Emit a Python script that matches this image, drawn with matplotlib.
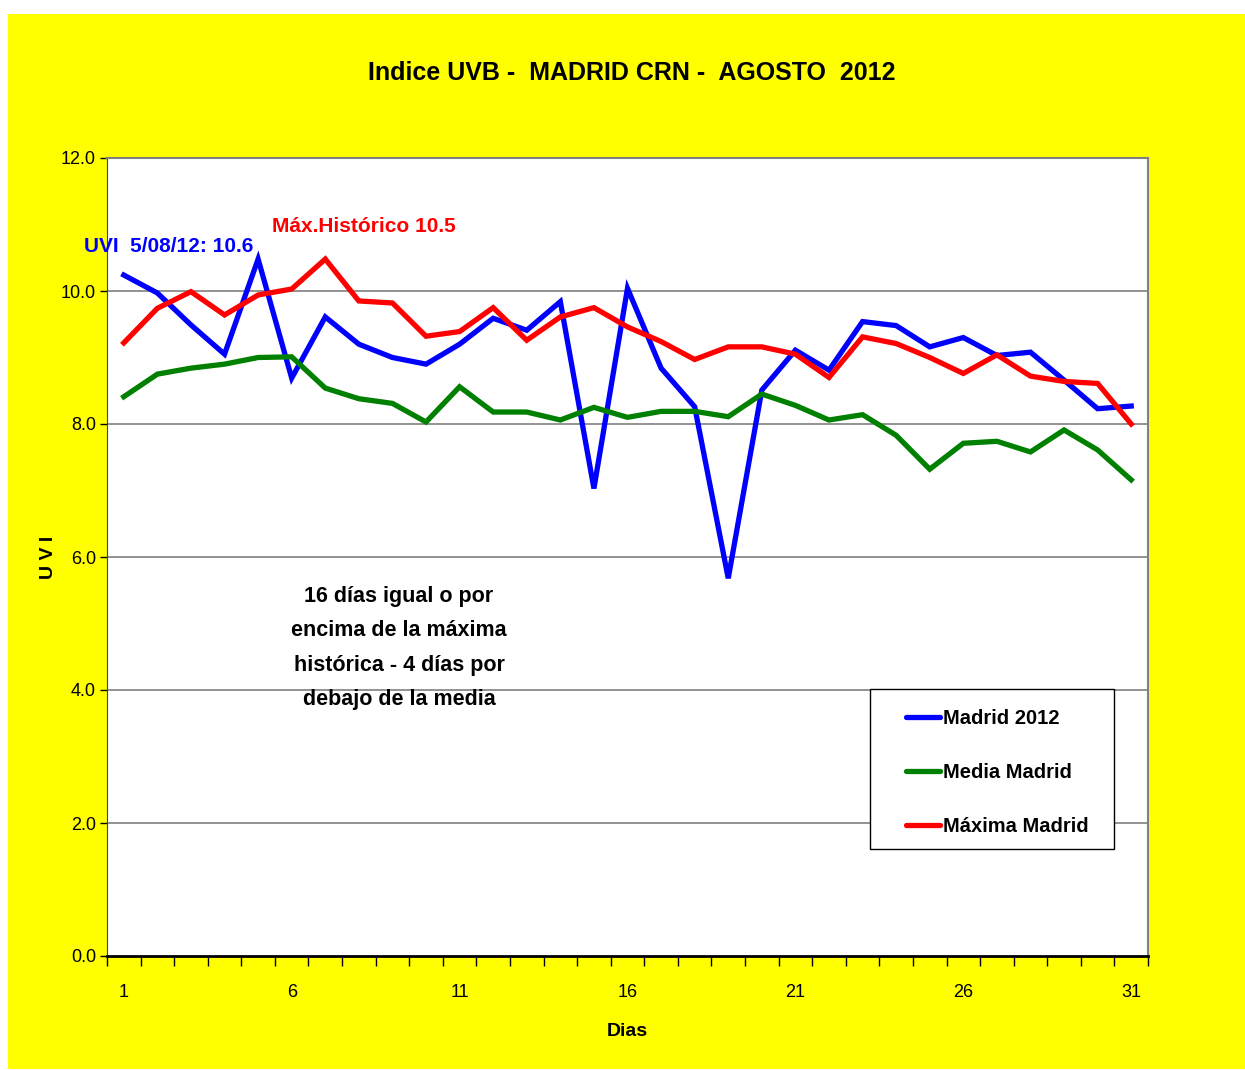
import matplotlib
matplotlib.use("Agg")
import matplotlib.pyplot as plt
from matplotlib.patches import Rectangle
from matplotlib.lines import Line2D
from matplotlib import font_manager

names = {f.name for f in font_manager.fontManager.ttflist}
FAM = "Liberation Sans Narrow" if "Liberation Sans Narrow" in names else "Liberation Sans"
plt.rcParams['font.family'] = [FAM, 'DejaVu Sans']

dias = list(range(1, 32))
madrid_2012 = [10.24, 9.97, 9.49, 9.05, 10.48, 8.69, 9.61, 9.20, 9.00, 8.90,
               9.20, 9.59, 9.41, 9.84, 7.03, 10.04, 8.84, 8.26, 5.68, 8.51,
               9.11, 8.81, 9.54, 9.48, 9.16, 9.30, 9.03, 9.08, 8.66, 8.23, 8.27]
media_madrid = [8.41, 8.75, 8.84, 8.90, 9.00, 9.01, 8.54, 8.38, 8.31, 8.03,
                8.56, 8.18, 8.18, 8.06, 8.25, 8.10, 8.19, 8.19, 8.11, 8.45,
                8.28, 8.06, 8.14, 7.83, 7.32, 7.71, 7.74, 7.58, 7.91, 7.61, 7.16]
maxima_madrid = [9.22, 9.74, 9.99, 9.64, 9.94, 10.03, 10.48, 9.85, 9.82, 9.32,
                 9.39, 9.75, 9.26, 9.61, 9.75, 9.46, 9.24, 8.97, 9.16, 9.16,
                 9.05, 8.70, 9.31, 9.21, 9.00, 8.76, 9.04, 8.72, 8.64, 8.61, 8.00]
xtick_labels = ['1', '6', '11', '16', '21', '26', '31']
yticks = [0.0, 2.0, 4.0, 6.0, 8.0, 10.0, 12.0]

W, H = 1245, 1070
fig = plt.figure(figsize=(W/100, H/100), dpi=100, facecolor='white')
bg = Rectangle((8/W, 1 - 1069/H), (W-8)/W, (1069-14)/H,
               transform=fig.transFigure, facecolor='#FFFF00',
               edgecolor='none', zorder=-10)
fig.patches.append(bg)

x0, x1, y0, y1 = 107, 1148, 158, 956
ax = fig.add_axes([x0/W, 1 - y1/H, (x1-x0)/W, (y1-y0)/H])
ax.set_zorder(1)
ax.set_facecolor('white')

lw = 3.8
ax.plot(dias, madrid_2012, color='#0000FF', lw=lw, zorder=3, solid_joinstyle='miter')
ax.plot(dias, media_madrid, color='#008000', lw=lw, zorder=3, solid_joinstyle='miter')
ax.plot(dias, maxima_madrid, color='#FF0000', lw=lw, zorder=3, solid_joinstyle='miter')

ax.set_xlim(0.5, 31.5)
ax.set_ylim(0, 12)
ax.set_yticks(yticks)
ax.set_yticklabels([f"{v:.1f}" for v in yticks], fontsize=13)
for v in yticks[1:-1]:
    ax.axhline(v, color='#808080', lw=1.2, zorder=1)

ax.set_xticks([int(t) for t in xtick_labels])
ax.set_xticklabels(xtick_labels, fontsize=13)
ax.tick_params(axis='x', which='major', length=0, pad=20)
ax.set_xticks([d + 0.5 for d in [0] + dias], minor=True)
ax.tick_params(axis='x', which='minor', length=7, width=1, color='black', direction='out')
ax.tick_params(axis='y', length=5, width=1, direction='out', pad=3)

for s in ['top', 'right']:
    ax.spines[s].set_color('#808080')
    ax.spines[s].set_linewidth(1.5)
ax.spines['left'].set_color('#404040')
ax.spines['bottom'].set_color('black')
ax.spines['bottom'].set_linewidth(2)

ax.set_xlabel('Dias', fontsize=14, fontweight='bold', labelpad=16)
ax.set_ylabel('U V I', fontsize=14, fontweight='bold', labelpad=3)

fig.text(632/W, 1 - 73/H, 'Indice UVB -  MADRID CRN -  AGOSTO  2012',
         ha='center', va='center', fontsize=18, fontweight='bold')

fig.text(84/W, 1 - 247/H, 'UVI  5/08/12: 10.6', fontsize=15, fontweight='bold',
         color='#0000FF', va='center', ha='left')
fig.text(272/W, 1 - 227/H, 'Máx.Histórico 10.5', fontsize=15, fontweight='bold',
         color='#FF0000', va='center', ha='left')
fig.text(399/W, 1 - 648/H,
         '16 días igual o por\nencima de la máxima\nhistórica - 4 días por\ndebajo de la media',
         ha='center', va='center', fontsize=15.5, fontweight='bold', linespacing=1.85)

# legend frame
frame = Rectangle((870/W, 1 - 849/H), (1114-870)/W, (849-689)/H,
                  transform=fig.transFigure, facecolor='white', edgecolor='black',
                  lw=1, zorder=2)
fig.patches.append(frame)

handles = [Line2D([], [], color='#0000FF', lw=lw, solid_capstyle='round'),
           Line2D([], [], color='#008000', lw=lw, solid_capstyle='round'),
           Line2D([], [], color='#FF0000', lw=lw, solid_capstyle='round')]
leg = fig.legend(handles, ['Madrid 2012', 'Media Madrid', 'Máxima Madrid'],
                 loc='upper left', bbox_to_anchor=(906/W, 1 - 709/H),
                 bbox_transform=fig.transFigure,
                 frameon=False, prop={'size': 14.5, 'weight': 'bold'},
                 handlelength=1.7, handletextpad=0.15, labelspacing=1.75,
                 borderpad=0, borderaxespad=0)
leg.set_zorder(6)

fig.savefig('out.png', dpi=100, facecolor=fig.get_facecolor())
